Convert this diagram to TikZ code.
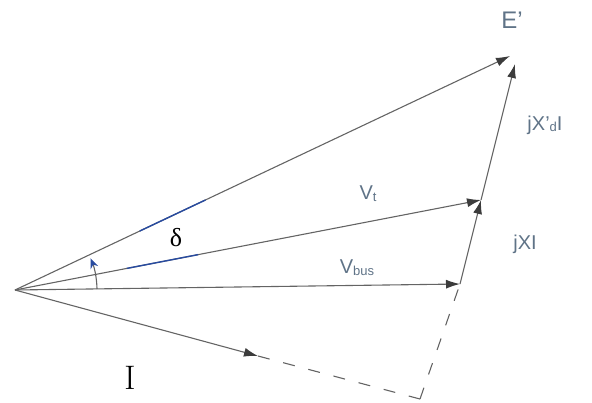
\documentclass[tikz,border=0pt]{standalone}
\usepackage{fontspec}
\setsansfont{Liberation Sans}
\newfontfamily\grkserif{Liberation Serif}
\usetikzlibrary{arrows.meta,calc}
\definecolor{vline}{RGB}{100,100,100}
\definecolor{vhead}{RGB}{60,60,60}
\definecolor{vblue}{RGB}{40,75,160}
\definecolor{lbl}{RGB}{95,115,135}
\tikzset{
  vec/.style={draw=vline, line width=1.1pt, -{Latex[length=14pt,width=9pt,color=vhead]}},
  dsh/.style={draw=vline, line width=1.1pt, dash pattern=on 12pt off 14pt},
  blueseg/.style={draw=vblue, line width=1.4pt},
  lab/.style={font=\sffamily\fontsize{20}{22}\selectfont, text=lbl, inner sep=0pt},
}
\begin{document}
\begin{tikzpicture}[x=1pt,y=-1pt]
\useasboundingbox (0,0) rectangle (592,402);
\coordinate (O) at (15,290);
\coordinate (E) at (510,56);
\coordinate (Ej) at (515,64);
\coordinate (Vt) at (481,200);
\coordinate (Vb) at (460,284);
\coordinate (Ia) at (258,356);
\coordinate (C) at (420,399);
% main phasors
\draw[vec] (O) -- (E);
\draw[vec] (O) -- (Vt);
\draw[vec] (O) -- (Vb);
\draw[vec] (O) -- (Ia);
\draw[dsh] (Ia) -- (C);
\draw[dsh] (C) -- (Vb);
\draw[vec] (Vb) -- (Vt);
\draw[vec] (Vt) -- (Ej);
% blue marks of the angle delta
\draw[blueseg] ($(O)!0.252!(E)$) -- ($(O)!0.385!(E)$);
\draw[blueseg] ($(O)!0.24!(Vt)$) -- ($(O)!0.393!(Vt)$);
% small angle arrow
\draw[vline, line width=1.1pt, -{Stealth[length=10pt,width=8pt,color=vblue]}] (97,289) arc[start angle=-1, end angle=-23, radius=82];
% labels
\node[lab, font=\sffamily\fontsize{24}{26}\selectfont] (lE) at (512,20) {E'};
\node[lab] (lXd) at (545,125) {jX'\raisebox{-1pt}{\fontsize{13}{14}\selectfont d}I};
\node[lab] (lXI) at (525,244) {jXI};
\node[lab] (lVt) at (368,194) {V\raisebox{-2pt}{\fontsize{13}{14}\selectfont t}};
\node[lab] (lVb) at (357,268) {V\raisebox{-2pt}{\fontsize{13}{14}\selectfont bus}};
\node[inner sep=0pt, font=\grkserif\fontsize{26}{28}\selectfont] (ld) at (176,238) {δ};
\node[inner sep=0pt, font=\fontsize{34}{36}\selectfont] (lI) at (130,378) {I};
\end{tikzpicture}
\end{document}
